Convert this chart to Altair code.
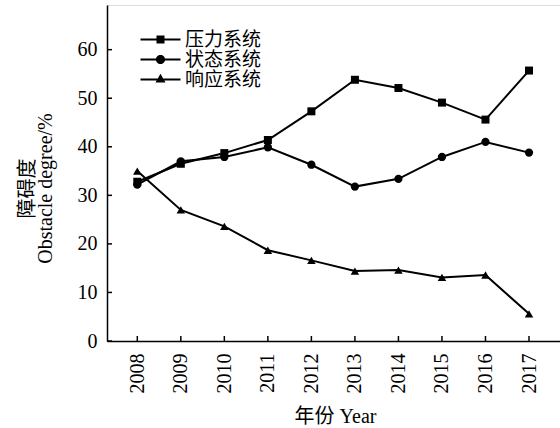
import altair as alt
import pandas as pd

years = [2008, 2009, 2010, 2011, 2012, 2013, 2014, 2015, 2016, 2017]
pressure = [32.8, 36.5, 38.7, 41.4, 47.3, 53.8, 52.1, 49.1, 45.6, 55.7]
state = [32.2, 37.0, 37.9, 39.9, 36.3, 31.8, 33.4, 37.9, 41.0, 38.8]
response = [35.0, 27.0, 23.6, 18.7, 16.6, 14.4, 14.6, 13.1, 13.6, 5.6]
series_names = ["压力系统", "状态系统", "响应系统"]
y_ticks = [0, 10, 20, 30, 40, 50, 60]

rows = []
for name, vals in zip(series_names, [pressure, state, response]):
    for yr, v in zip(years, vals):
        rows.append({"year": yr, "value": v, "series": name})
df = pd.DataFrame(rows)
df_years = pd.DataFrame({"year": years})
df_yt = pd.DataFrame({"v": y_ticks})

FONT = "Liberation Serif, Noto Sans CJK SC"
W, H = 453, 336

xscale = alt.Scale(domain=[2007.304, 2017.712], nice=False, zero=False)
yscale = alt.Scale(domain=[0, 69.2], nice=False)

x_axis = alt.Axis(
    values=years, format="d", labelAngle=-90, labelFont=FONT, labelFontSize=20,
    labelColor="black", ticks=False, tickSize=0, labelPadding=12, grid=False,
    domainColor="black", domainWidth=1.5, title="年份 Year", titleFont=FONT,
    titleFontSize=20, titleFontWeight="normal", titleColor="black",
    titleY=75, titleBaseline="middle", titleX=228,
)
y_axis = alt.Axis(
    values=y_ticks, labelFont=FONT, labelFontSize=20, labelColor="black",
    ticks=False, tickSize=0, labelPadding=10, grid=False, domainColor="black",
    domainWidth=1.5, title=["障碍度", "Obstacle degree/%"], titleFont=FONT,
    titleFontSize=20, titleFontWeight="normal", titleColor="black",
    titleLineHeight=18, titleX=-70, titleY=183,
)

base = alt.Chart(df)

lines = base.mark_line(color="black", strokeWidth=2).encode(
    x=alt.X("year:Q", scale=xscale, axis=x_axis),
    y=alt.Y("value:Q", scale=yscale, axis=y_axis),
    detail="series:N",
)

pts = base.mark_point(filled=True, color="black", opacity=1).encode(
    x=alt.X("year:Q", scale=xscale),
    y=alt.Y("value:Q", scale=yscale),
    shape=alt.Shape("series:N", scale=alt.Scale(domain=series_names,
                    range=["square", "circle", "triangle-up"]), legend=None),
    size=alt.Size("series:N", scale=alt.Scale(domain=series_names, range=[64, 72, 100]), legend=None),
)

legend_paths = [
    "M-5,-0.22H5V0.22H-5ZM-1,-1H1V1H-1Z",
    "M-5,-0.22H5V0.22H-5ZM1.15,0A1.15,1.15,0,1,1,-1.15,0A1.15,1.15,0,1,1,1.15,0Z",
    "M-5,-0.22H5V0.22H-5ZM0,-1.45L1.25,0.75L-1.25,0.75Z",
]
leg = base.mark_point(filled=True, color="black", opacity=1).encode(
    x=alt.X("year:Q", scale=xscale),
    y=alt.Y("value:Q", scale=yscale),
    shape=alt.Shape("series:N", scale=alt.Scale(domain=series_names, range=legend_paths),
                    legend=alt.Legend(orient="none", legendX=44, legendY=25, title=None,
                                      labelFont=FONT, labelFontSize=19, labelColor="black",
                                      symbolSize=64, symbolFillColor="black",
                                      symbolOpacity=1, labelOffset=15, rowPadding=0,
                                      padding=0)),
).transform_filter("false")

xt = alt.Chart(df_years).mark_rule(color="black", strokeWidth=1.5).encode(
    x=alt.X("year:Q", scale=xscale), y=alt.value(H), y2=alt.value(H - 5)
)
yt = alt.Chart(df_yt).mark_rule(color="black", strokeWidth=1.5).encode(
    y=alt.Y("v:Q", scale=yscale), x=alt.value(0), x2=alt.value(5)
)

chart = alt.layer(lines, pts, leg, xt, yt).resolve_scale(
    shape="independent", size="independent"
).resolve_legend(shape="independent").properties(
    width=W, height=H,
    autosize=alt.AutoSizeParams(type="none"),
    padding={"left": 107, "top": 5, "right": 0, "bottom": 87},
).configure_view(stroke=None).configure(background="white")

chart.save("out.html", embed_options={"renderer": "svg", "actions": False})
